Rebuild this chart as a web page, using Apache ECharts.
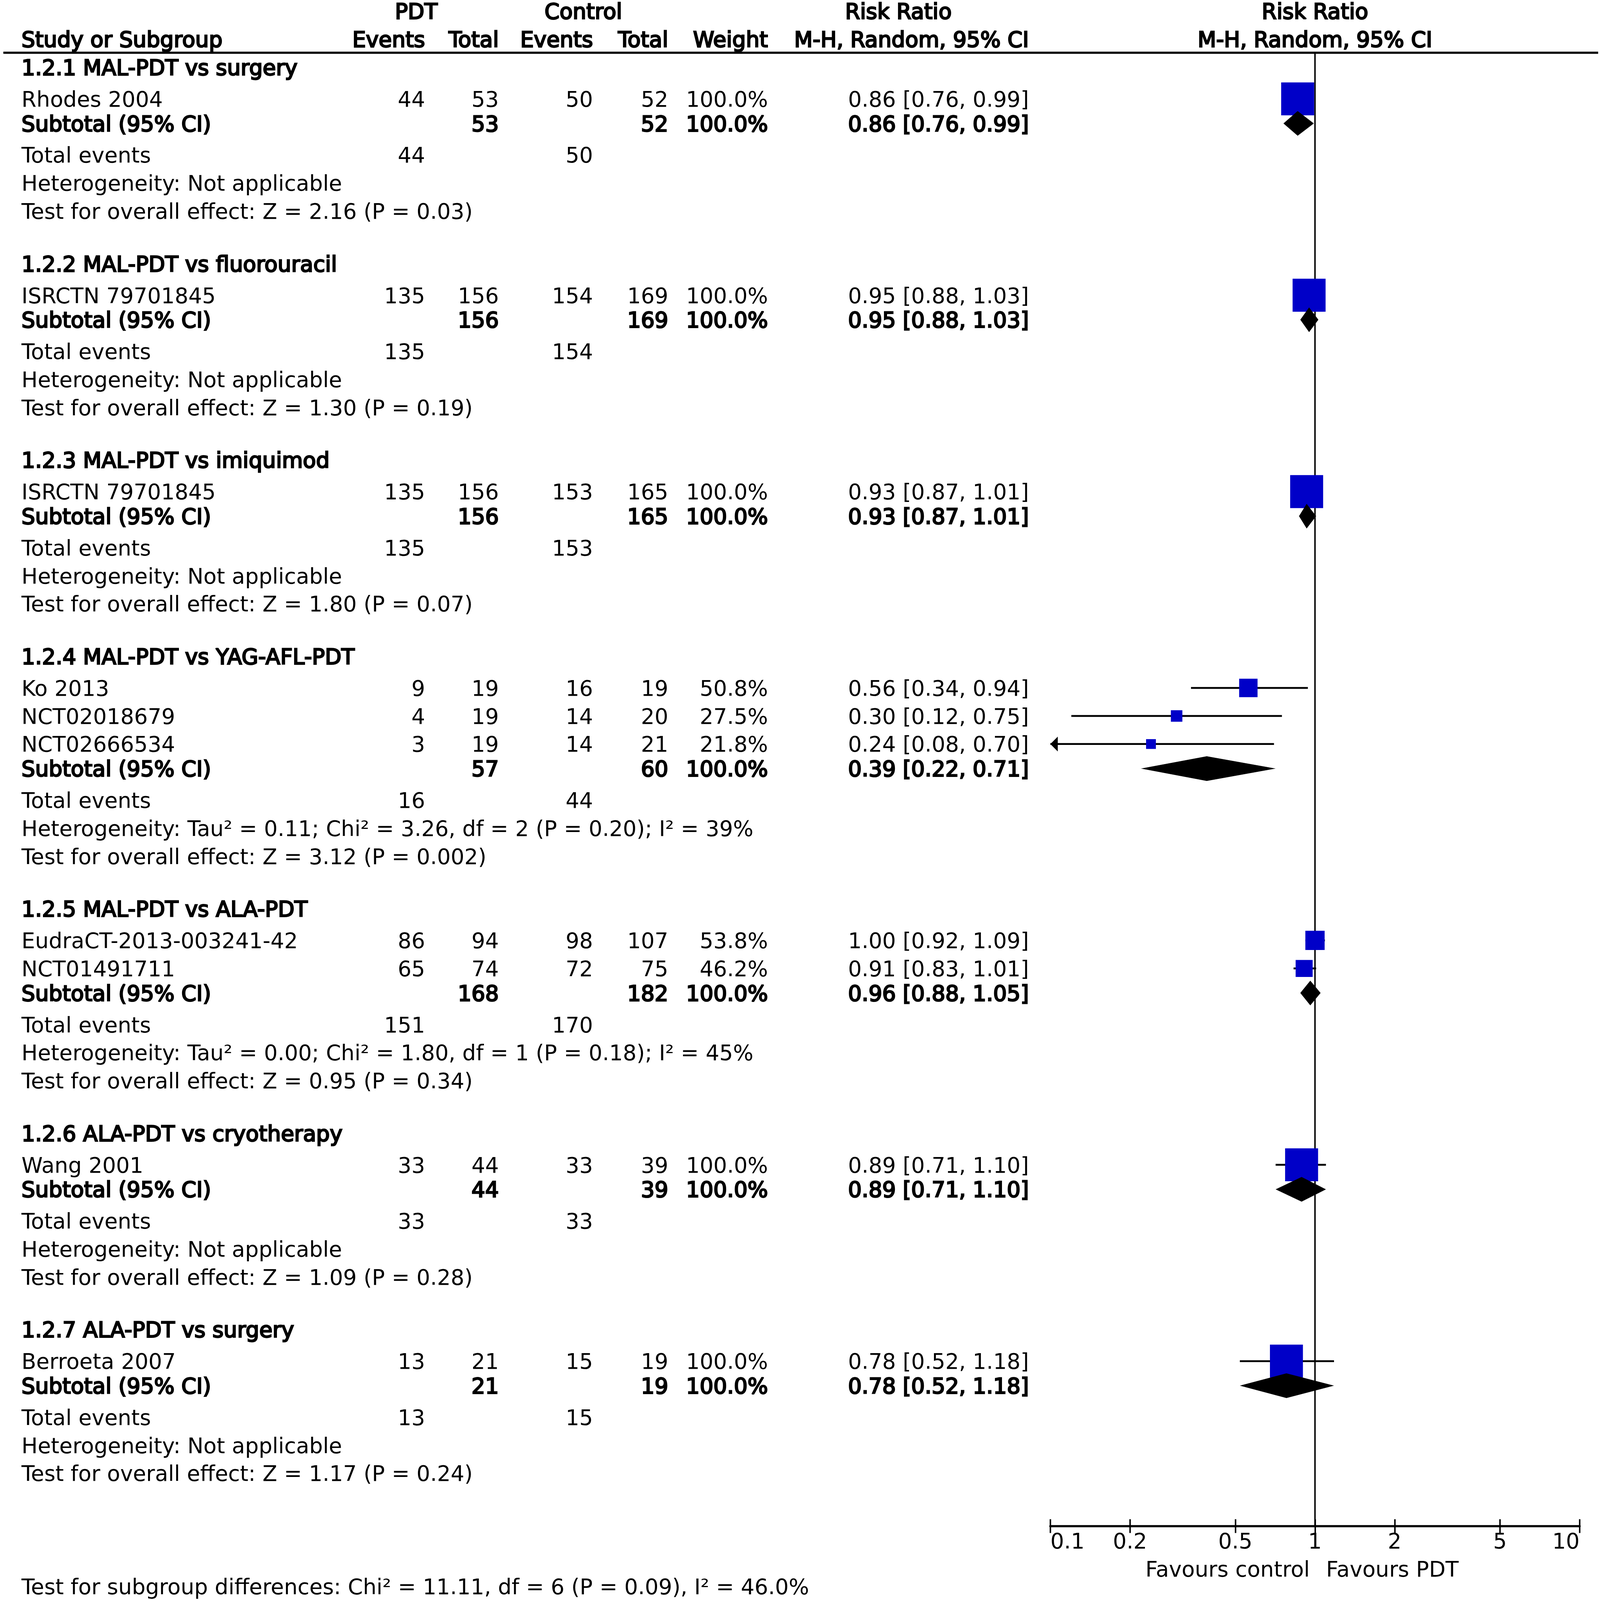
<!DOCTYPE html>
<html>
<head>
<meta charset="utf-8">
<script src="https://cdn.jsdelivr.net/npm/echarts@6/dist/echarts.min.js"></script>
<style>
html,body{margin:0;padding:0;background:#fff;width:100%;height:100%;overflow:hidden;}
#chart{width:100vw;height:100vh;}
</style>
</head>
<body>
<div id="chart"></div>
<script>
// ---------------- DATA ----------------
const groupTitles = [
  '1.2.1 MAL-PDT vs surgery',
  '1.2.2 MAL-PDT vs fluorouracil',
  '1.2.3 MAL-PDT vs imiquimod',
  '1.2.4 MAL-PDT vs YAG-AFL-PDT',
  '1.2.5 MAL-PDT vs ALA-PDT',
  '1.2.6 ALA-PDT vs cryotherapy',
  '1.2.7 ALA-PDT vs surgery'
];
const studyGroup = [0, 1, 2, 3, 3, 3, 4, 4, 5, 6];
const studyNames = ['Rhodes 2004', 'ISRCTN 79701845', 'ISRCTN 79701845', 'Ko 2013', 'NCT02018679',
  'NCT02666534', 'EudraCT-2013-003241-42', 'NCT01491711', 'Wang 2001', 'Berroeta 2007'];
const pdtEvents = [44, 135, 135, 9, 4, 3, 86, 65, 33, 13];
const pdtTotal = [53, 156, 156, 19, 19, 19, 94, 74, 44, 21];
const ctlEvents = [50, 154, 153, 16, 14, 14, 98, 72, 33, 15];
const ctlTotal = [52, 169, 165, 19, 20, 21, 107, 75, 39, 19];
const studyWeight = [100.0, 100.0, 100.0, 50.8, 27.5, 21.8, 53.8, 46.2, 100.0, 100.0];
const studyRR = [0.86, 0.95, 0.93, 0.56, 0.30, 0.24, 1.00, 0.91, 0.89, 0.78];
const studyLo = [0.76, 0.88, 0.87, 0.34, 0.12, 0.08, 0.92, 0.83, 0.71, 0.52];
const studyHi = [0.99, 1.03, 1.01, 0.94, 0.75, 0.70, 1.09, 1.01, 1.10, 1.18];

const subPdtTotal = [53, 156, 156, 57, 168, 44, 21];
const subCtlTotal = [52, 169, 165, 60, 182, 39, 19];
const subWeight = [100.0, 100.0, 100.0, 100.0, 100.0, 100.0, 100.0];
const subRR = [0.86, 0.95, 0.93, 0.39, 0.96, 0.89, 0.78];
const subLo = [0.76, 0.88, 0.87, 0.22, 0.88, 0.71, 0.52];
const subHi = [0.99, 1.03, 1.01, 0.71, 1.05, 1.10, 1.18];
const subPdtEvents = [44, 135, 135, 16, 151, 33, 13];
const subCtlEvents = [50, 154, 153, 44, 170, 33, 15];
const heterogeneity = [
  'Not applicable', 'Not applicable', 'Not applicable',
  'Tau² = 0.11; Chi² = 3.26, df = 2 (P = 0.20); I² = 39%',
  'Tau² = 0.00; Chi² = 1.80, df = 1 (P = 0.18); I² = 45%',
  'Not applicable', 'Not applicable'
];
const overallEffect = ['Z = 2.16 (P = 0.03)', 'Z = 1.30 (P = 0.19)', 'Z = 1.80 (P = 0.07)',
  'Z = 3.12 (P = 0.002)', 'Z = 0.95 (P = 0.34)', 'Z = 1.09 (P = 0.28)', 'Z = 1.17 (P = 0.24)'];
const subgroupTest = 'Test for subgroup differences: Chi² = 11.11, df = 6 (P = 0.09), I² = 46.0%';
const tickValues = [0.1, 0.2, 0.5, 1, 2, 5, 10];
const favoursLabels = ['Favours control', 'Favours PDT'];
const headerTop = ['PDT', 'Control', 'Risk Ratio'];
const headerBottom = ['Study or Subgroup', 'Events', 'Total', 'Events', 'Total', 'Weight', 'M-H, Random, 95% CI'];

// ---------------- LAYOUT (design pixels of a 4317 x 4533 page) ----------------
const W = 4317, H = 4533;
const FONT = 'DejaVu Sans';
const U = 79.47;          // design pixels per row unit
const U0 = -2.4;          // row unit at top edge
const AXIS_U = 52;        // row unit of forest x axis
const COL = { name: 58, evP: 1147, totP: 1346, evC: 1600, totC: 1803, wt: 2072, ci: 2776 };
const TOPCOL = [1123, 1574, 2424];
const FOREST_LEFT = 2834, FOREST_WIDTH = 1428;

const fmt2 = v => v.toFixed(2);
const ciText = (r, l, h) => fmt2(r) + ' [' + fmt2(l) + ', ' + fmt2(h) + ']';

const textItems = [];
const forestItems = [];
function addText(x, u, text, bold, align) { textItems.push({ x, u, text: String(text), bold: !!bold, align: align || 'right' }); }

// header
addText(TOPCOL[0], -2, headerTop[0], 1, 'center');
addText(TOPCOL[1], -2, headerTop[1], 1, 'center');
addText(TOPCOL[2], -2, headerTop[2], 1, 'center');
addText(COL.name, -1, headerBottom[0], 1, 'left');
addText(COL.evP, -1, headerBottom[1], 1);
addText(COL.totP, -1, headerBottom[2], 1);
addText(COL.evC, -1, headerBottom[3], 1);
addText(COL.totC, -1, headerBottom[4], 1);
addText(COL.wt, -1, headerBottom[5], 1);
addText(COL.ci, -1, headerBottom[6], 1);

let u = 0;
groupTitles.forEach((title, g) => {
  addText(COL.name, u, title, 1, 'left');
  u += 1.125;
  const idx = studyGroup.map((sg, i) => sg === g ? i : -1).filter(i => i >= 0);
  idx.forEach((i, k) => {
    if (k > 0) u += 1;
    addText(COL.name, u, studyNames[i], 0, 'left');
    addText(COL.evP, u, pdtEvents[i]);
    addText(COL.totP, u, pdtTotal[i]);
    addText(COL.evC, u, ctlEvents[i]);
    addText(COL.totC, u, ctlTotal[i]);
    addText(COL.wt, u, studyWeight[i].toFixed(1) + '%');
    addText(COL.ci, u, ciText(studyRR[i], studyLo[i], studyHi[i]));
    forestItems.push([studyRR[i], u, studyLo[i], studyHi[i], studyWeight[i], 0]);
  });
  u += 0.875;
  addText(COL.name, u, 'Subtotal (95% CI)', 1, 'left');
  addText(COL.totP, u, subPdtTotal[g], 1);
  addText(COL.totC, u, subCtlTotal[g], 1);
  addText(COL.wt, u, subWeight[g].toFixed(1) + '%', 1);
  addText(COL.ci, u, ciText(subRR[g], subLo[g], subHi[g]), 1);
  forestItems.push([subRR[g], u, subLo[g], subHi[g], subWeight[g], 1]);
  u += 1.125;
  addText(COL.name, u, 'Total events', 0, 'left');
  addText(COL.evP, u, subPdtEvents[g]);
  addText(COL.evC, u, subCtlEvents[g]);
  u += 1;
  addText(COL.name, u, 'Heterogeneity: ' + heterogeneity[g], 0, 'left');
  u += 1;
  addText(COL.name, u, 'Test for overall effect: ' + overallEffect[g], 0, 'left');
  u += 1.875;
});
addText(COL.name, AXIS_U + 2.15, subgroupTest, 0, 'left');

// ---------------- CHART ----------------
const dom = document.getElementById('chart');
const chart = echarts.init(dom, null, { renderer: 'canvas' });
const K = chart.getWidth() / W;          // design px -> css px
const KY = chart.getHeight() / H;
const FS = 58 * K;
const pct = (v, tot) => (100 * v / tot) + '%';

function textEl(pt, it) {
  const style = {
    text: it.text, fill: '#000', fontFamily: FONT, fontSize: FS,
    fontWeight: 'normal', align: it.align, verticalAlign: 'middle'
  };
  if (it.bold) { style.stroke = '#000'; style.lineWidth = 3.2 * K; }
  return { type: 'text', x: pt[0], y: pt[1] + 6 * KY, style };
}

const option = {
  backgroundColor: '#fff',
  animation: false,
  grid: [
    { left: 0, top: 0, width: '100%', height: '100%' },
    { left: pct(FOREST_LEFT, W), top: 0, width: pct(FOREST_WIDTH, W), height: pct((AXIS_U - U0) * U, H) }
  ],
  xAxis: [
    { gridIndex: 0, type: 'value', min: 0, max: W, show: false },
    {
      gridIndex: 1, type: 'log', logBase: 10, min: 0.1, max: 10, position: 'bottom',
      axisLine: { show: true, onZero: false, lineStyle: { color: '#000', width: 6 * K } },
      axisTick: { show: true, customValues: tickValues, length: 20 * KY, lineStyle: { color: '#000', width: 4 * K } },
      axisLabel: {
        show: true, customValues: tickValues, margin: 18 * KY, color: '#000',
        fontFamily: FONT, fontSize: FS, alignMinLabel: 'left', alignMaxLabel: 'right',
        formatter: v => String(v)
      },
      splitLine: { show: false }, minorTick: { show: false }
    },
    {
      gridIndex: 1, type: 'log', logBase: 10, min: 0.1, max: 10, position: 'bottom', offset: 0,
      axisLine: { show: false, onZero: false },
      axisTick: { show: true, inside: true, customValues: tickValues, length: 19 * KY, lineStyle: { color: '#000', width: 4 * K } },
      axisLabel: { show: false }, splitLine: { show: false }
    }
  ],
  yAxis: [
    { gridIndex: 0, type: 'value', inverse: true, min: U0, max: U0 + H / U, show: false },
    { gridIndex: 1, type: 'value', inverse: true, min: U0, max: AXIS_U, show: false }
  ],
  series: [
    {
      type: 'custom', xAxisIndex: 0, yAxisIndex: 0, z: 1,
      data: [[9, -0.52, 4312]],
      renderItem: (params, api) => {
        const a = api.coord([api.value(0), api.value(1)]);
        const b = api.coord([api.value(2), api.value(1)]);
        return { type: 'line', shape: { x1: a[0], y1: a[1], x2: b[0], y2: b[1] }, style: { stroke: '#000', lineWidth: 6 * K } };
      }
    },
    {
      type: 'custom', xAxisIndex: 0, yAxisIndex: 0, z: 3,
      data: textItems.map((it, i) => [it.x, it.u, i]),
      renderItem: (params, api) => {
        const it = textItems[api.value(2)];
        return textEl(api.coord([api.value(0), api.value(1)]), it);
      }
    },
    {
      type: 'custom', xAxisIndex: 1, yAxisIndex: 1, z: 3,
      data: [[1, -2, 0], [1, -1, 1], [1, AXIS_U + 1.53, 2], [1, AXIS_U + 1.53, 3]],
      renderItem: (params, api) => {
        const k = api.value(2);
        const p = api.coord([api.value(0), api.value(1)]);
        let it;
        if (k === 0) it = { text: headerTop[2], bold: 1, align: 'center' };
        else if (k === 1) it = { text: headerBottom[6], bold: 1, align: 'center' };
        else if (k === 2) { it = { text: favoursLabels[0], bold: 0, align: 'right' }; p[0] -= 14 * K; }
        else { it = { text: favoursLabels[1], bold: 0, align: 'left' }; p[0] += 30 * K; }
        return textEl(p, it);
      }
    },
    {
      type: 'custom', xAxisIndex: 1, yAxisIndex: 1, z: 1,
      data: [[1, -0.52, AXIS_U]],
      renderItem: (params, api) => {
        const a = api.coord([api.value(0), api.value(1)]);
        const b = api.coord([api.value(0), api.value(2)]);
        return { type: 'line', shape: { x1: a[0], y1: a[1], x2: b[0], y2: b[1] }, style: { stroke: '#000', lineWidth: 4 * K } };
      }
    },
    {
      type: 'custom', xAxisIndex: 1, yAxisIndex: 1, z: 2,
      data: forestItems,
      encode: { x: 0, y: 1 },
      renderItem: (params, api) => {
        const rr = api.value(0), uu = api.value(1), lo = api.value(2), hi = api.value(3), w = api.value(4), kind = api.value(5);
        const c = api.coord([rr, uu]);
        const pLo = api.coord([Math.max(lo, 0.1), uu]);
        const pHi = api.coord([Math.min(hi, 10), uu]);
        const children = [];
        const ah = 20 * K;
        if (kind === 0) {
          children.push({ type: 'line', shape: { x1: pLo[0], y1: pLo[1], x2: pHi[0], y2: pHi[1] }, style: { stroke: '#000', lineWidth: 5 * K } });
          if (lo < 0.1) {
            children.push({ type: 'polygon', shape: { points: [[pLo[0], pLo[1]], [pLo[0] + ah, pLo[1] - ah], [pLo[0] + ah, pLo[1] + ah]] }, style: { fill: '#000' } });
          }
          if (hi > 10) {
            children.push({ type: 'polygon', shape: { points: [[pHi[0], pHi[1]], [pHi[0] - ah, pHi[1] - ah], [pHi[0] - ah, pHi[1] + ah]] }, style: { fill: '#000' } });
          }
          const s = (9 + 0.8 * w) * K;
          children.push({ type: 'rect', shape: { x: c[0] - s / 2, y: c[1] - s / 2, width: s, height: s }, style: { fill: '#0000c8' } });
        } else {
          const dh = 35 * KY;
          children.push({ type: 'polygon', shape: { points: [[pLo[0], c[1]], [c[0], c[1] - dh], [pHi[0], c[1]], [c[0], c[1] + dh]] }, style: { fill: '#000' } });
        }
        return { type: 'group', children };
      }
    }
  ]
};
chart.setOption(option);
</script>
</body>
</html>
